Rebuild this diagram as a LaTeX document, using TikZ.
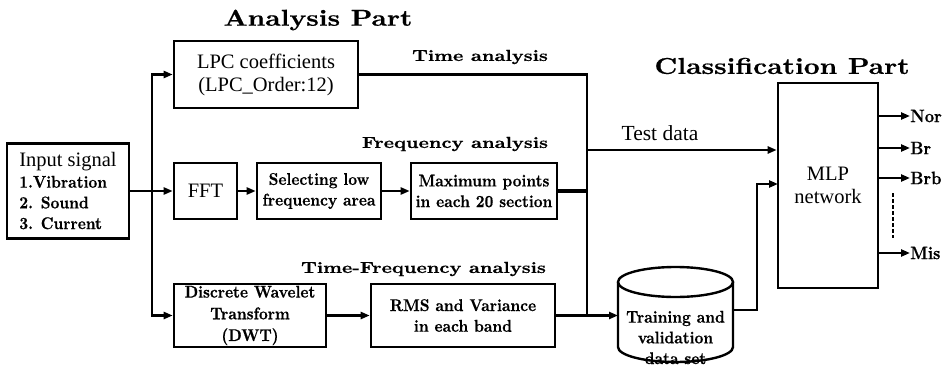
\documentclass[tikz,border=0pt]{standalone}
\usepackage{fontspec}
\newfontfamily\tms{Liberation Serif}
\newfontfamily\hvb{lmroman10-bold.otf}[FakeBold=0.5]
\newfontfamily\hvc{lmroman10-bold.otf}[FakeBold=0.5, FakeStretch=0.9]
\usetikzlibrary{arrows.meta}
\newcommand\bxfont{\hvc\fontsize{17}{20.7}\selectfont}
\newcommand\regfont{\tms\fontsize{20.5}{23}\selectfont}
\newcommand\lblfont{\hvb\fontsize{16}{18}\selectfont}
\newcommand\ttlfont{\hvb\fontsize{23}{25}\selectfont}
\newcommand\outfont{\hvc\fontsize{18}{20}\selectfont}
\begin{document}
\begin{tikzpicture}[x=1pt,y=-1pt,
  box/.style={draw, line width=2.6pt, inner sep=0pt, align=center},
  ln/.style={line width=2.3pt},
  thk/.style={line width=3.2pt},
  arr/.style={line width=2.3pt, -{Triangle[length=9pt,width=7pt]}},
  lbl/.style={inner sep=0pt, font=\lblfont, xscale=1.23},
  ttl/.style={inner sep=0pt, font=\ttlfont, xscale=1.2},
  outl/.style={inner sep=0pt, anchor=west, font=\outfont}]
\useasboundingbox (0,0) rectangle (949,366);

% titles
\node[ttl] (tana) at (318,20) {Analysis Part};
\node[ttl] (tcls) at (782,66) {Classification Part};

% input block
\node[box, minimum width=122, minimum height=95, align=left, font=\bxfont] (input) at (68,191)
  {{\regfont Input signal}\\
   1.Vibration\\
   2. Sound\\
   3. Current};

% analysis blocks
\node[box, minimum width=184, minimum height=67, font=\regfont] (lpc) at (266,74.5)
  {LPC coefficients\\(LPC\_Order:12)};
\node[box, minimum width=63, minimum height=56, font=\regfont] (fft) at (205.5,191) {FFT};
\node[box, minimum width=124, minimum height=56, font=\bxfont] (sel) at (319,191)
  {Selecting low\\frequency area};
\node[box, minimum width=146, minimum height=56, font=\bxfont] (max) at (484,191)
  {Maximum points\\in each 20 section};
\node[box, minimum width=152, minimum height=63, font=\bxfont] (dwt) at (250,315.5)
  {Discrete Wavelet\\[1pt]Transform\\[1pt](DWT)};
\node[box, minimum width=184, minimum height=63, font=\bxfont] (rms) at (463,315.5)
  {RMS and Variance\\in each band};

% analysis labels
\node[lbl] (ltime) at (480,57) {Time analysis};
\node[lbl] (lfreq) at (455,144) {Frequency analysis};
\node[lbl] (ltf) at (423.5,269) {Time-Frequency analysis};
\node[inner sep=0pt, font=\tms\fontsize{21.5}{24}\selectfont] (ltest) at (660,133) {Test data};

% data set cylinder
\draw[line width=2.4pt] (618,282) -- (618,347)
  arc[start angle=180, end angle=360, x radius=57.5pt, y radius=15pt] -- (733,282);
\draw[line width=2.4pt] (675.5,282) ellipse[x radius=57.5pt, y radius=15pt];
\node[inner sep=0pt, font=\bxfont, align=center] (train) at (675.5,337.5)
  {Training and\\validation\\data set};
\coordinate (cylw) at (618,315.5);
\coordinate (cyle) at (733,310);

% classifier
\node[box, minimum width=100, minimum height=205, font=\regfont] (mlp) at (828,185.5)
  {MLP\\network};

% junction points
\coordinate (tk) at (152,191);
\coordinate (jt) at (587,74.5);
\coordinate (jtest) at (587,150);
\coordinate (jm) at (587,191);
\coordinate (jb) at (587,315.5);
\coordinate (up) at (757,310);
\coordinate (mi) at (778,184);

% connectors
\draw[arr] (input.east) -- (fft.west);
\draw[arr] (tk) |- (lpc.west);
\draw[arr] (tk) |- (dwt.west);
\draw[arr] (fft) -- (sel);
\draw[arr] (sel) -- (max);
\draw[arr] (dwt) -- (rms);
\draw[ln] (lpc.east) -- (jt) -- (jb);
\draw[thk] (max.east) -- (jm);
\draw[thk] (rms.east) -- (jb);
\draw[thk, -{Triangle[length=9pt,width=7pt]}] (jb) -- (cylw);
\draw[arr] (jtest) -- (jtest -| mlp.west);
\draw[arr] (cyle) -- (up) |- (mi);

% outputs
\node[outl] (nor) at (910,116) {Nor};
\node[outl] (br) at (910,148) {Br};
\node[outl] (brb) at (910,178) {Brb};
\node[outl] (mis) at (910,253) {Mis};
\draw[arr] (mlp.east |- nor) -- (nor.west);
\draw[arr] (mlp.east |- br) -- (br.west);
\draw[arr] (mlp.east |- brb) -- (brb.west);
\draw[arr] (mlp.east |- mis) -- (mis.west);
\coordinate (dtop) at (893,193);
\coordinate (dbot) at (893,238);
\draw[line width=1.5pt, dash pattern=on 4pt off 2pt] (dtop) -- (dbot);
\end{tikzpicture}
\end{document}
